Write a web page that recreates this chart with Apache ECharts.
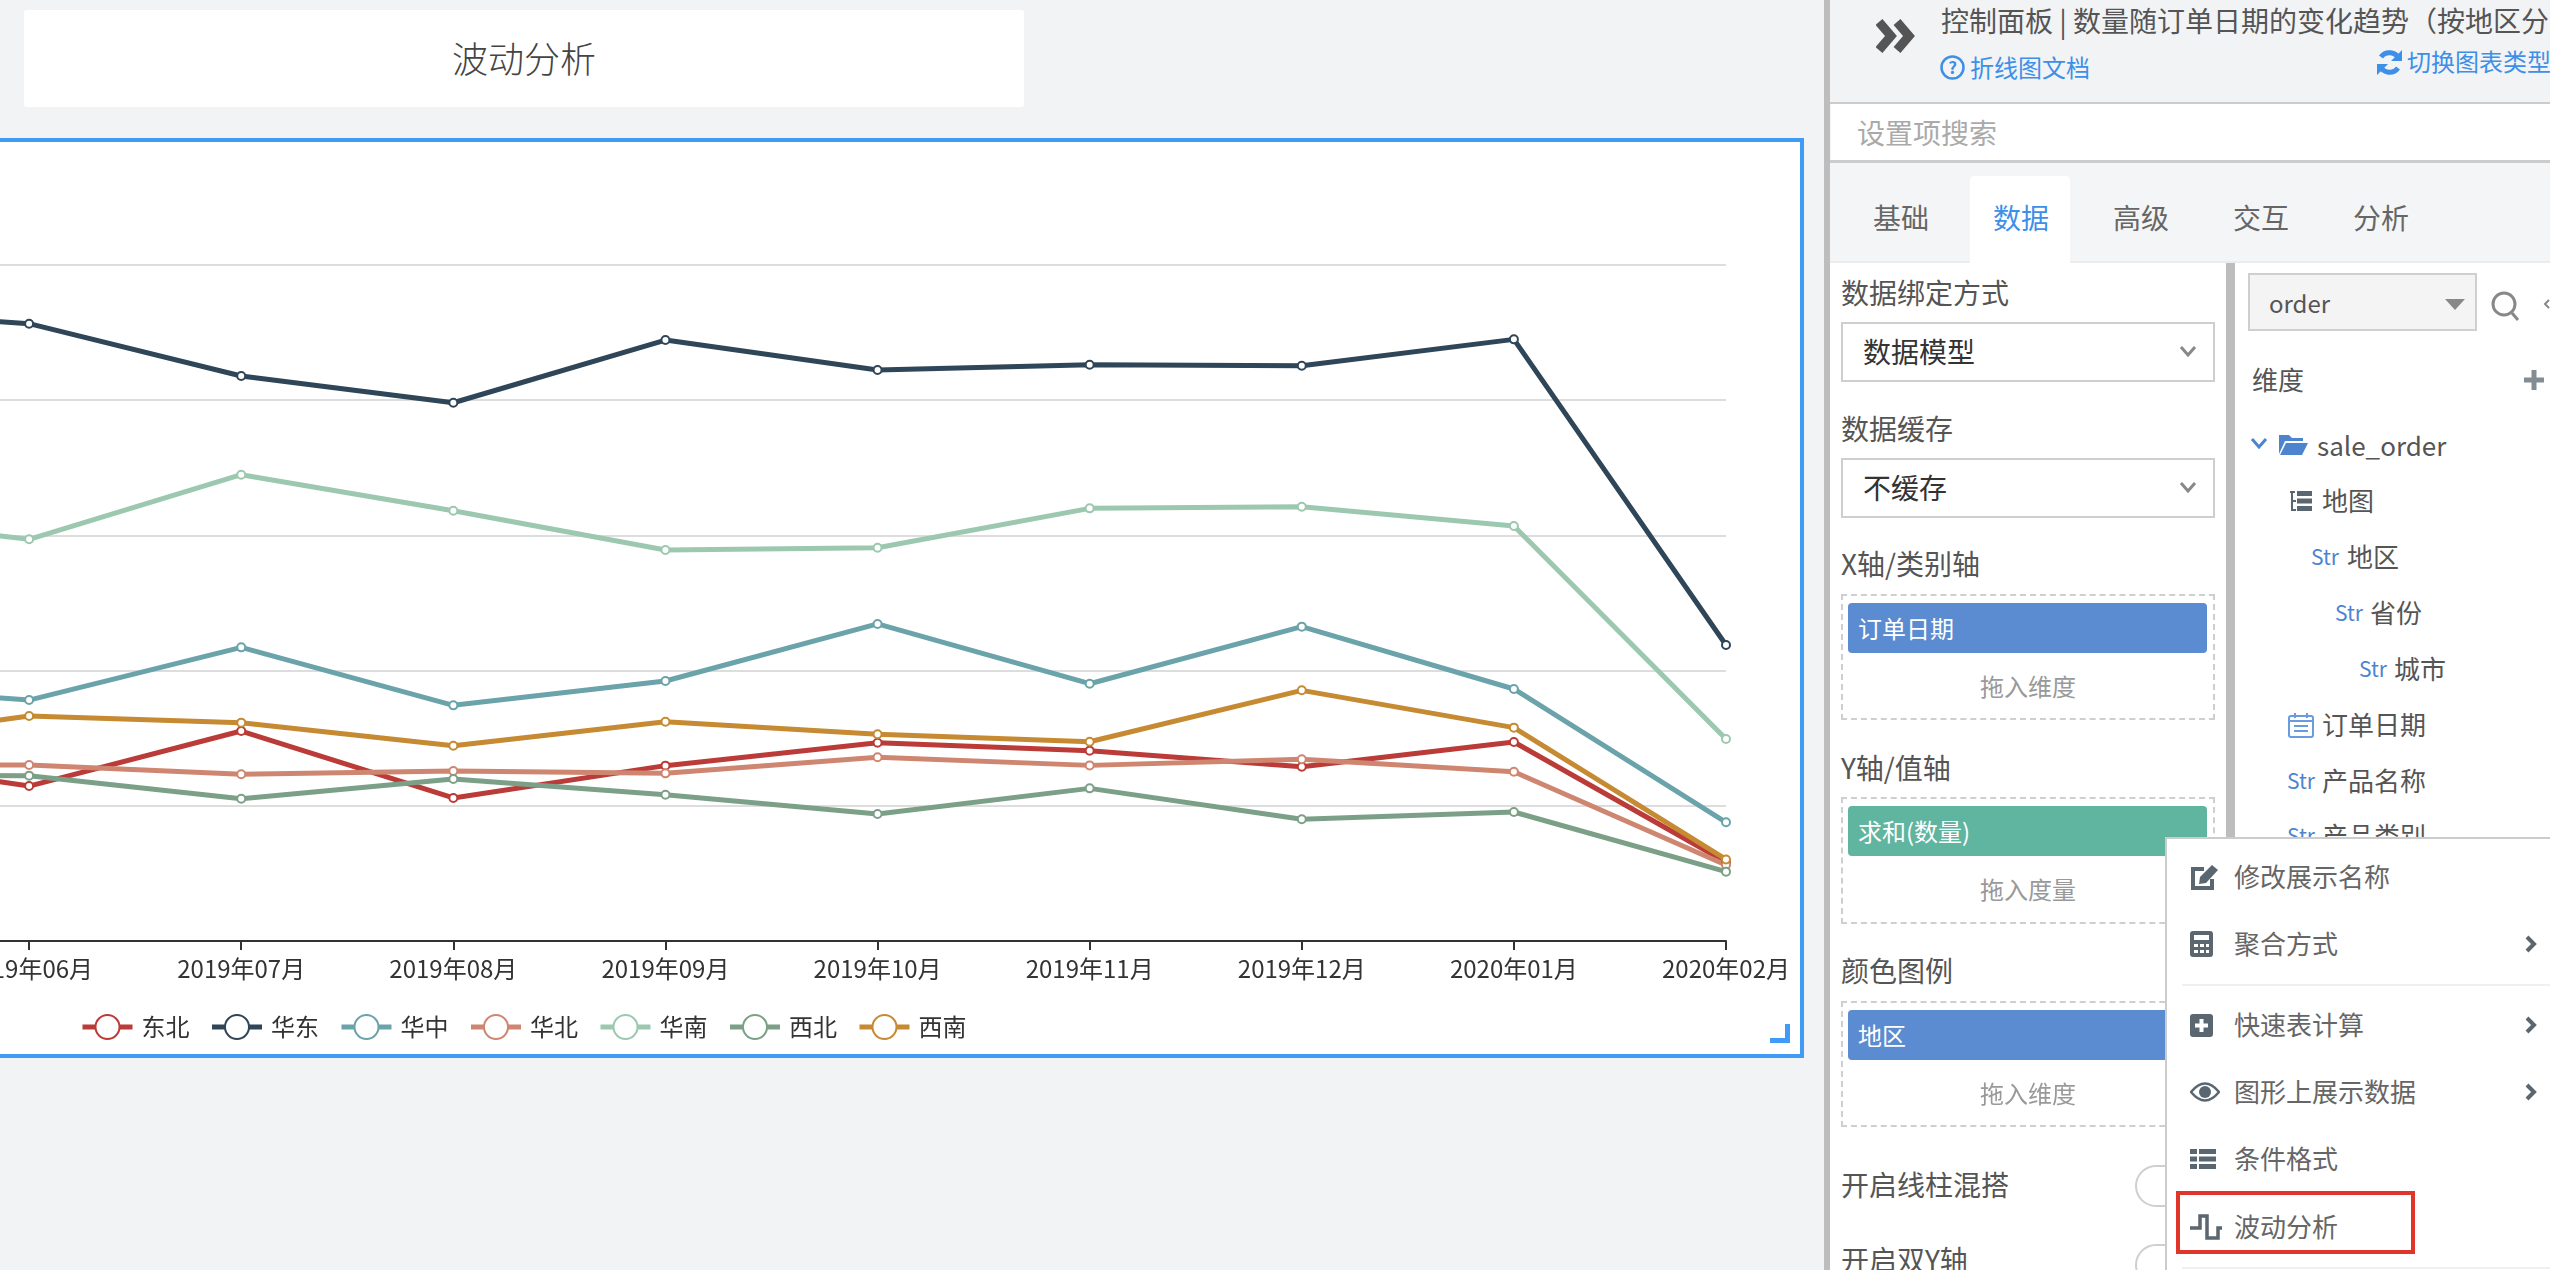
<!DOCTYPE html>
<html>
<head>
<meta charset="utf-8">
<script src="https://cdn.jsdelivr.net/npm/echarts@6/dist/echarts.min.js"></script>
<style>
  html, body { margin: 0; padding: 0; }
  body { position: relative; width: 2550px; height: 1270px; overflow: hidden; background: #f1f3f5;
         font-family: "Noto Sans CJK SC", sans-serif; color: #555; }
  .box { position: absolute; box-sizing: border-box; }
  .txt { position: absolute; white-space: nowrap; line-height: 1; transform: translateY(-50%); }
  svg { position: absolute; }
  #frame { left: -20px; top: 138px; width: 1824px; height: 920px; background: #fff; border: 4px solid #3f9bf6; }
  #chart { position: absolute; left: -300px; top: 142px; width: 2100px; height: 912px; }
  #handle { left: 1770px; top: 1024px; width: 20px; height: 19px; border-right: 5px solid #3f9bf6; border-bottom: 5px solid #3f9bf6; }
</style>
</head>
<body>
<div class="box" style="left:24px;top:10px;width:1000px;height:97px;background:#fff;border-radius:3px"></div>
<div class="txt" style="left:524px;top:57px;font-size:36px;font-weight:300;color:#444;transform:translate(-50%,-50%)">波动分析</div>
<div class="box" id="frame"></div>
<div id="chart"></div>
<div class="box" id="handle"></div>
<div id="panel"></div>

<script>
// 2019年05月 falls off the left of the screenshot, its line still enters the frame
const months = ['2019年05月', '2019年06月', '2019年07月', '2019年08月', '2019年09月', '2019年10月',
  '2019年11月', '2019年12月', '2020年01月', '2020年02月'];

const regions = {
  '东北': [1376, 1146, 1553, 1058, 1297, 1467, 1408, 1289, 1472, 584],
  '华东': [4674, 4566, 4179, 3981, 4445, 4223, 4262, 4255, 4450, 2189],
  '华中': [1893, 1782, 2172, 1743, 1923, 2345, 1903, 2325, 1864, 878],
  '华北': [1302, 1302, 1233, 1257, 1240, 1359, 1299, 1344, 1252, 562],
  '华南': [3151, 2971, 3449, 3182, 2892, 2909, 3200, 3212, 3069, 1494],
  '西北': [1228, 1223, 1052, 1198, 1082, 939, 1129, 900, 954, 513],
  '西南': [1450, 1664, 1615, 1444, 1622, 1529, 1474, 1854, 1578, 603]
};

const chart = echarts.init(document.getElementById('chart'));
chart.setOption({
  animation: false,
  color: ['#ba3b37', '#2f4558', '#6ba3ab', '#cf8670', '#9cc8b0', '#7ba087', '#c68a33'],
  textStyle: { fontFamily: '"Noto Sans CJK SC", sans-serif' },
  legend: {
    left: 375,
    top: 867,
    itemWidth: 50,
    itemHeight: 30,
    itemGap: 20,
    textStyle: { fontSize: 24, color: '#333', padding: [0, 0, 0, 4] },
    lineStyle: { width: 5 },
    itemStyle: { borderWidth: 4 },
    data: Object.keys(regions)
  },
  grid: { left: 117, right: 74, top: 123, bottom: 113 },
  xAxis: {
    type: 'category',
    boundaryGap: false,
    data: months,
    axisLine: { lineStyle: { color: '#333', width: 2 } },
    axisTick: { length: 9, lineStyle: { color: '#333', width: 2 } },
    axisLabel: { fontSize: 24, color: '#333', margin: 16, interval: 0 }
  },
  yAxis: {
    type: 'value',
    min: 0,
    max: 5000,
    interval: 1000,
    axisLine: { show: false },
    axisTick: { show: false },
    splitLine: { lineStyle: { color: '#ddd', width: 2 } }
  },
  series: Object.keys(regions).map((name) => ({
    name,
    type: 'line',
    data: regions[name],
    symbol: 'emptyCircle',
    symbolSize: 8,
    showAllSymbol: true,
    lineStyle: { width: 5 },
    itemStyle: { borderWidth: 4 }
  }))
});

// side panel, everything placed in screenshot pixels
const panel = document.getElementById('panel');
const addBox = (x, y, w, h, css) => {
  panel.insertAdjacentHTML('beforeend',
    `<div class="box" style="left:${x}px;top:${y}px;width:${w}px;height:${h}px;${css || ''}"></div>`);
};
const addText = (x, y, text, size, color, center) => {
  const shift = center ? 'transform:translate(-50%,-50%);' : '';
  panel.insertAdjacentHTML('beforeend',
    `<div class="txt" style="left:${x}px;top:${y - 1}px;font-size:${size}px;color:${color};${shift}">${text}</div>`);
};
const addIcon = (x, y, w, h, body) => {
  panel.insertAdjacentHTML('beforeend',
    `<svg style="left:${x}px;top:${y}px" width="${w}" height="${h}" viewBox="0 0 ${w} ${h}">${body}</svg>`);
};
const chevron = (x, y, color) => addIcon(x - 10, y - 8, 20, 16,
  `<path d="M3 3 L10 11 L17 3" fill="none" stroke="${color}" stroke-width="3"/>`);
const arrow = (y) => addIcon(2522, y - 10, 18, 20,
  '<path d="M5 3 L12 10 L5 17" fill="none" stroke="#5a6670" stroke-width="4"/>');

const BLUE = '#3d8fe8', GREY = '#5a6670', BORDER = '#cfcfcf';

addBox(1824, 0, 726, 1270, 'background:#f2f3f5');
addBox(1824, 0, 6, 1270, 'background:#bdbdbd');
addBox(1830, 102, 720, 2, 'background:#ccc');

addIcon(1876, 18, 40, 36, '<path d="M3 4 L15 18 L3 32 M21 4 L33 18 L21 32" fill="none" stroke="#555" stroke-width="9"/>');
addText(1941, 21, '控制面板 | 数量随订单日期的变化趋势（按地区分类）', 28, '#555');
addIcon(1940, 55, 25, 25, `<circle cx="12.5" cy="12.5" r="11" fill="none" stroke="${BLUE}" stroke-width="2.5"/><text x="12.5" y="18.5" font-size="17" font-weight="bold" text-anchor="middle" fill="${BLUE}">?</text>`);
addText(1970, 68, '折线图文档', 24, BLUE);
addIcon(2376, 49, 27, 27, `<path d="M23 10 A10.5 10.5 0 0 0 5 8 M4 17 A10.5 10.5 0 0 0 22 19" fill="none" stroke="${BLUE}" stroke-width="5"/><path d="M26 1 V12 H15 Z M1 26 V15 H12 Z" fill="${BLUE}"/>`);
addText(2407, 62, '切换图表类型', 24, BLUE);

addBox(1831, 104, 719, 56, 'background:#fff');
addBox(1830, 160, 720, 3, 'background:#ccc');
addText(1857, 133, '设置项搜索', 28, '#aaa');

addBox(1830, 163, 720, 98, 'background:#f4f5f6');
addBox(1970, 176, 100, 86, 'background:#fff;border-radius:4px 4px 0 0');
addBox(1830, 261, 720, 2, 'background:#ececec');
[['基础', 1873], ['数据', 1993], ['高级', 2113], ['交互', 2233], ['分析', 2353]].forEach(([t, x]) => {
  addText(x, 218, t, 28, t === '数据' ? BLUE : '#666');
});
addBox(1970, 260, 100, 3, 'background:#fff');

// left column
addBox(1830, 263, 396, 1007, 'background:#fff');
addBox(2226, 263, 9, 1007, 'background:#bdbdbd');
addBox(2235, 263, 315, 1007, 'background:#fff');

addText(1841, 293, '数据绑定方式', 28, '#555');
addBox(1841, 322, 374, 60, `border:2px solid ${BORDER}`);
addText(1863, 352, '数据模型', 28, '#333');
chevron(2188, 352, '#888');
addText(1841, 429, '数据缓存', 28, '#555');
addBox(1841, 458, 374, 60, `border:2px solid ${BORDER}`);
addText(1863, 488, '不缓存', 28, '#333');
chevron(2188, 488, '#888');

const drop = (labelY, label, top, height, fill, pill, hint) => {
  addText(1841, labelY, label, 28, '#555');
  addBox(1841, top, 374, height, `border:2px dashed ${BORDER}`);
  addBox(1848, top + 9, 359, 50, `background:${fill};border-radius:4px`);
  addText(1858, top + 35, pill, 24, '#fff');
  addText(2028, top + 93, hint, 24, '#999', true);
};
drop(564, 'X轴/类别轴', 594, 126, '#5b8bd0', '订单日期', '拖入维度');
drop(768, 'Y轴/值轴', 797, 127, '#60b5a0', '求和(数量)', '拖入度量');
drop(971, '颜色图例', 1001, 126, '#5b8bd0', '地区', '拖入维度');

addText(1841, 1185, '开启线柱混搭', 28, '#555');
addBox(2135, 1165, 70, 42, `border:2px solid ${BORDER};border-radius:21px`);
addText(1841, 1260, '开启双Y轴', 28, '#555');
addBox(2135, 1244, 70, 42, `border:2px solid ${BORDER};border-radius:21px`);

// right column
addBox(2248, 273, 229, 58, `background:#f4f4f4;border:2px solid ${BORDER}`);
addText(2269, 304, 'order', 24, '#555');
addIcon(2445, 297, 20, 14, '<path d="M0 2 H20 L10 13 Z" fill="#888"/>');
addIcon(2490, 289, 32, 34, '<circle cx="14" cy="15" r="11" fill="none" stroke="#888" stroke-width="3"/><path d="M22 24 L28 31" stroke="#888" stroke-width="3"/>');
addIcon(2543, 298, 7, 16, '<path d="M6 2 L2 6 L6 10" fill="none" stroke="#888" stroke-width="2"/>');
addText(2252, 380, '维度', 26, '#555');
addIcon(2523, 369, 22, 22, `<path d="M11 1 V21 M1 11 H21" stroke="${GREY}" opacity="0.75" stroke-width="5"/>`);

chevron(2259, 444, '#4d84d0');
addIcon(2278, 432, 30, 24, '<path d="M1 3 H11 L14 6 H25 V9 H7 L1 22 Z M8 11 H30 L24 23 H2 Z" fill="#4d84d0"/>');
addText(2317, 446, 'sale_order', 26, '#555');
addIcon(2289, 490, 23, 22, `<path d="M1 2 H6 M3 2 V20 H7 M3 11 H7" stroke="${GREY}" stroke-width="2" fill="none"/><path d="M8 1 H23 V6 H8 Z M8 8.5 H23 V13.5 H8 Z M8 16 H23 V21 H8 Z" fill="${GREY}"/>`);
addText(2322, 501, '地图', 26, '#555');
[[2311, 2347, 557, '地区'], [2335, 2370, 613, '省份'], [2359, 2394, 669, '城市'], [2287, 2322, 781, '产品名称'], [2287, 2322, 836, '产品类别']].forEach(([sx, tx, y, t]) => {
  addText(sx, y, 'Str', 21, '#4d84d0');
  addText(tx, y, t, 26, '#555');
});
addIcon(2288, 712, 26, 26, '<rect x="1" y="4" width="24" height="21" rx="2" fill="none" stroke="#6a9be0" stroke-width="2"/><path d="M1 9 H25 M7 1 V6 M19 1 V6 M6 14 H20 M6 19 H20" stroke="#6a9be0" stroke-width="2"/>');
addText(2322, 725, '订单日期', 26, '#555');

// context menu
addBox(2165, 837, 385, 433, 'background:#fff;border:2px solid #ccc;border-right:none;border-bottom:none');
addBox(2182, 984, 368, 2, 'background:#f0f0f0');
addBox(2182, 1267, 368, 2, 'background:#f0f0f0');
[['修改展示名称', 877], ['聚合方式', 944], ['快速表计算', 1025], ['图形上展示数据', 1092], ['条件格式', 1159], ['波动分析', 1227]].forEach(([t, y]) => {
  addText(2234, y, t, 26, '#666');
});
[944, 1025, 1092].forEach(arrow);
addIcon(2190, 864, 30, 28, `<path d="M22 15 V24 H3 V5 H14" fill="none" stroke="${GREY}" stroke-width="4"/><path d="M10 13 L22 1 L28 6 L16 19 L9 20 Z" fill="${GREY}"/>`);
addIcon(2190, 931, 24, 26, `<rect x="0" y="0" width="23" height="26" rx="3" fill="${GREY}"/><rect x="4" y="4" width="15" height="5" fill="#fff"/><path d="M4 13 H8 V16 H4 Z M10 13 H14 V16 H10 Z M16 13 H19 V16 H16 Z M4 19 H8 V22 H4 Z M10 19 H14 V22 H10 Z M16 19 H19 V22 H16 Z" fill="#fff"/>`);
addIcon(2190, 1014, 23, 23, `<rect width="23" height="23" rx="3" fill="${GREY}"/><path d="M11.5 5 V18 M5 11.5 H18" stroke="#fff" stroke-width="4"/>`);
addIcon(2190, 1081, 30, 22, `<path d="M1 11 Q15 -6 29 11 Q15 28 1 11 Z" fill="none" stroke="${GREY}" stroke-width="2.5"/><circle cx="15" cy="11" r="6" fill="${GREY}"/>`);
addIcon(2190, 1148, 26, 22, `<path d="M0 1 H7 V6 H0 Z M9 1 H26 V6 H9 Z M0 8.5 H7 V13.5 H0 Z M9 8.5 H26 V13.5 H9 Z M0 16 H7 V21 H0 Z M9 16 H26 V21 H9 Z" fill="${GREY}"/>`);
addIcon(2190, 1214, 32, 26, `<path d="M0 14 H10 V2 H17 V24 H28 V14 H32" fill="none" stroke="${GREY}" stroke-width="3.5"/>`);
addBox(2176, 1191, 239, 63, 'border:4px solid #e0352b');
</script>
</body>
</html>
